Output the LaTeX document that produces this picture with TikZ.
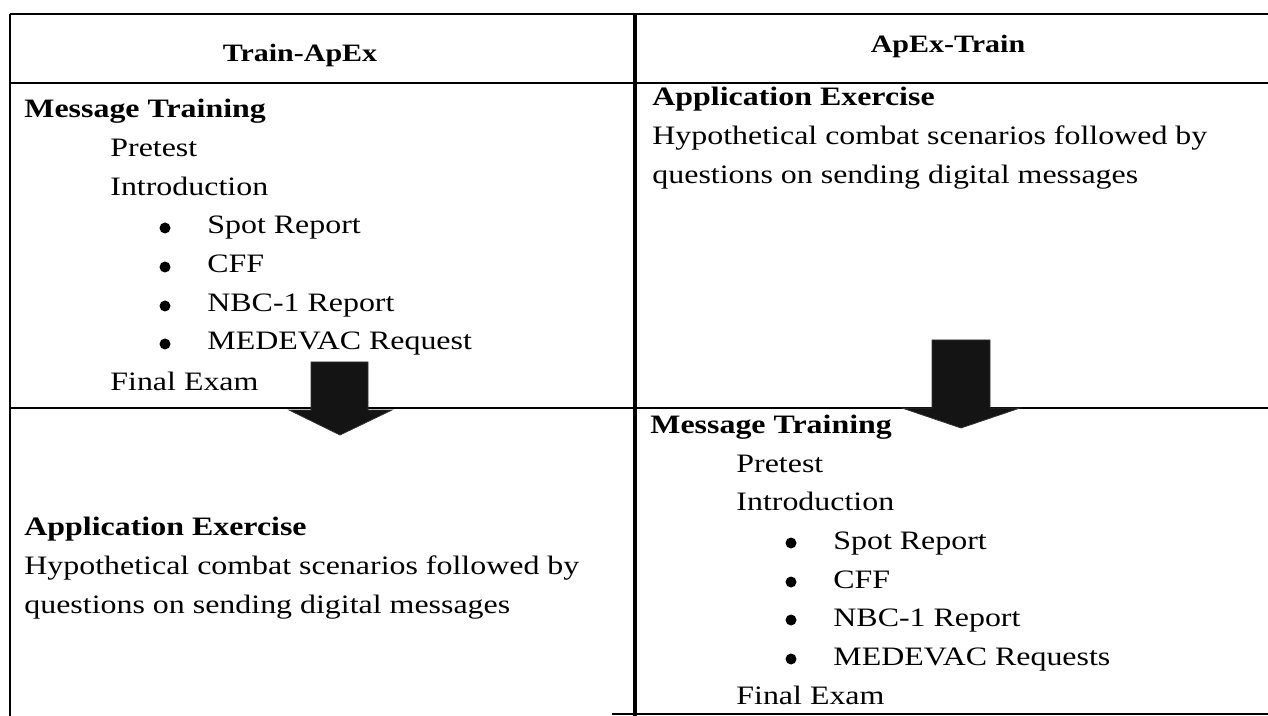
\documentclass[tikz,border=0pt]{standalone}
\usepackage{fontspec}
\setmainfont{Liberation Serif}[FakeStretch=1.2]
\usetikzlibrary{positioning}

\tikzset{
  txt/.style={anchor=base west, inner sep=0pt, font=\fontsize{13.3}{15}\selectfont},
  ttl/.style={txt, font=\fontsize{13.3}{15}\selectfont\bfseries},
  hdr/.style={anchor=base, inner sep=0pt, font=\fontsize{12.5}{14}\selectfont\bfseries},
  dot/.style={circle, fill=black, inner sep=0pt, minimum size=5.5pt},
  rule/.style={line width=1.2pt},
  blockarrow/.style={fill=black!92, draw=black!80, line width=0.4pt},
}

\begin{document}
\begin{tikzpicture}[x=0.5pt, y=-0.5pt]
    \useasboundingbox (0,0) rectangle (1268,716);

    % Table rules
    \draw[rule] (10,14) -- (1268,14);
    \draw[rule] (10,83) -- (1268,83);
    \draw[rule] (10,408) -- (1268,408);
    \draw[rule] (10,14) -- (10,716);
    \draw[rule] (612,714) -- (1268,714);
    \draw[line width=2pt] (635,14) -- (635,716);

    % Headers
    \node[hdr] (trainapex) at (300,62) {Train-ApEx};
    \node[hdr] (apextrain) at (948,53) {ApEx-Train};

    % Train-ApEx: message training
    \node[ttl] (mtl) at (24,118) {Message Training};
    \node[txt] (pretl) at (110,157) {Pretest};
    \node[txt] (introl) at (110,196) {Introduction};
    \node[dot] (bl1) at (165,228) {};
    \node[txt] (spotl) at (207,234) {Spot Report};
    \node[dot] (bl2) at (165,267) {};
    \node[txt] (cffl) at (207,273) {CFF};
    \node[dot] (bl3) at (165,306) {};
    \node[txt] (nbcl) at (207,312) {NBC-1 Report};
    \node[dot] (bl4) at (165,344) {};
    \node[txt] (medl) at (207,350) {MEDEVAC Request};
    \node[txt] (examl) at (110,391) {Final Exam};

    % Train-ApEx: application exercise
    \node[ttl] (axl) at (24,535) {Application Exercise};
    \node[txt] (hypl) at (24,574) {Hypothetical combat scenarios followed by};
    \node[txt] (qul) at (24,613) {questions on sending digital messages};

    % ApEx-Train: application exercise
    \node[ttl] (axr) at (652,106) {Application Exercise};
    \node[txt] (hypr) at (652,145) {Hypothetical combat scenarios followed by};
    \node[txt] (qur) at (652,184) {questions on sending digital messages};

    % ApEx-Train: message training
    \node[ttl] (mtr) at (650,433) {Message Training};
    \node[txt] (pretr) at (736,472) {Pretest};
    \node[txt] (intror) at (736,510) {Introduction};
    \node[dot] (br1) at (791,543) {};
    \node[txt] (spotr) at (833,549) {Spot Report};
    \node[dot] (br2) at (791,582) {};
    \node[txt] (cffr) at (833,588) {CFF};
    \node[dot] (br3) at (791,620) {};
    \node[txt] (nbcr) at (833,626) {NBC-1 Report};
    \node[dot] (br4) at (791,659) {};
    \node[txt] (medr) at (833,665) {MEDEVAC Requests};
    \node[txt] (examr) at (736,704) {Final Exam};

    % Block arrows
    \draw[blockarrow] (311,362) -- (368,362) -- (368,410) -- (392,410) -- (340,435)
        -- (289,410) -- (311,410) -- cycle;
    \draw[blockarrow] (932,340) -- (990,340) -- (990,408) -- (1020,408) -- (961,428)
        -- (902,408) -- (932,408) -- cycle;
\end{tikzpicture}
\end{document}
